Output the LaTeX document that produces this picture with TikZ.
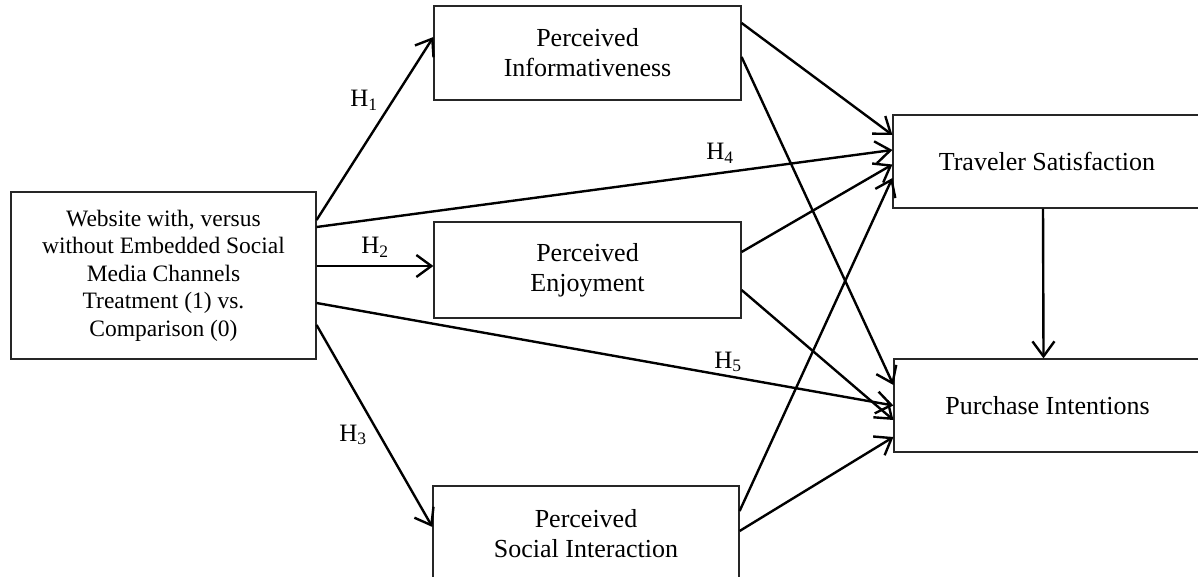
\documentclass[tikz,border=0pt]{standalone}
\usepackage{fontspec}
\setmainfont{Liberation Serif}
\usetikzlibrary{arrows.meta}
\begin{document}
\begin{tikzpicture}[x=1pt,y=-1pt,
  box/.style={draw=black!85, line width=1.2pt, align=center, inner sep=0pt, font=\fontsize{26}{30}\selectfont},
  arr/.style={line width=2.4pt, -{Straight Barb[length=15pt,width=22pt]}},
  lab/.style={font=\fontsize{25}{30}\selectfont, inner sep=0pt}]
\useasboundingbox (0,0) rectangle (1198,577);
\fill[white] (0,0) rectangle (1198,577);
\clip (0,0) rectangle (1198,577);
\node[box, minimum width=305pt, minimum height=167pt, font=\fontsize{23.5}{27.5}\selectfont] (web) at (163.5,275.5) {Website with, versus\\without Embedded Social\\Media Channels\\Treatment (1) vs.\\Comparison (0)};
\node[box, minimum width=307pt, minimum height=94pt] (info) at (587.5,53) {Perceived\\Informativeness};
\node[box, minimum width=307pt, minimum height=96pt] (enjoy) at (587.5,270) {Perceived\\Enjoyment};
\node[box, minimum width=306pt, minimum height=96pt] (social) at (586,534) {Perceived\\Social Interaction};
\node[box, minimum width=308pt, minimum height=93pt] (trav) at (1047,161.5) {Traveler Satisfaction};
\node[box, minimum width=307pt, minimum height=93pt] (purch) at (1047.5,405.5) {Purchase Intentions};
\draw[arr] ([yshift=55.5pt]web.east) -- ([yshift=16pt]info.west);
\draw[arr] ([yshift=48.5pt]web.east) -- ([yshift=11.5pt]trav.west);
\draw[arr] ([yshift=9.5pt]web.east) -- ([yshift=4pt]enjoy.west);
\draw[arr] ([yshift=-27.5pt]web.east) -- (purch.west);
\draw[arr] ([yshift=-49.5pt]web.east) -- ([yshift=7pt]social.west);
\draw[arr] ([yshift=30pt]info.east) -- ([yshift=26.5pt]trav.west);
\draw[arr] ([yshift=-4pt]info.east) -- ([yshift=20.5pt]purch.west);
\draw[arr] ([yshift=18pt]enjoy.east) -- ([yshift=-3pt]trav.west);
\draw[arr] ([yshift=-20pt]enjoy.east) -- ([yshift=-14.5pt]purch.west);
\draw[arr] ([yshift=23pt]social.east) -- ([yshift=-16.5pt]trav.west);
\draw[arr] ([yshift=3pt]social.east) -- ([yshift=-31.5pt]purch.west);
\draw[arr] ([xshift=-4pt]trav.south) -- ([xshift=-4pt]purch.north);
\node[lab] (h1) at (364,100) {H\textsubscript{1}};
\node[lab] (h2) at (375,247) {H\textsubscript{2}};
\node[lab] (h3) at (353,435) {H\textsubscript{3}};
\node[lab] (h4) at (720,153) {H\textsubscript{4}};
\node[lab] (h5) at (728,362) {H\textsubscript{5}};
\end{tikzpicture}
\end{document}
